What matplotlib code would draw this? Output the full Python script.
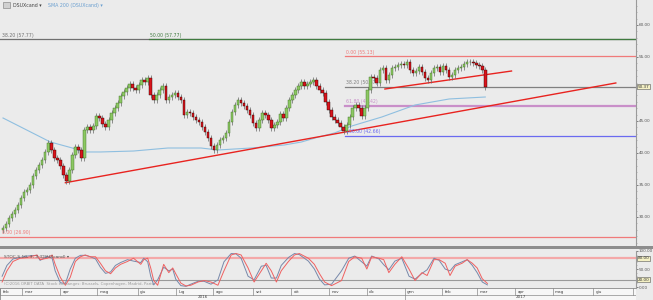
import numpy as np
import matplotlib
matplotlib.use('Agg')
import matplotlib.pyplot as plt
from matplotlib.patches import Rectangle

# daily closes, one per candle slot
closes = [28.28, 28.91, 29.84, 30.47, 31.09, 31.88, 32.97, 33.91, 34.22, 35.00,
          36.41, 37.34, 38.13, 38.91, 40.16, 41.56, 40.47, 39.22, 38.91, 37.97,
          36.56, 35.63, 37.34, 39.69, 40.94, 40.47, 39.22, 43.59, 44.06, 43.59,
          44.22, 45.78, 45.47, 44.53, 44.06, 45.16, 46.25, 47.03, 47.81, 48.91,
          49.53, 50.16, 50.78, 50.16, 49.84, 50.63, 51.41, 51.09, 51.72, 49.06,
          48.28, 49.06, 49.84, 50.47, 48.28, 48.75, 49.06, 49.38, 48.75, 48.28,
          45.94, 46.41, 46.25, 45.63, 45.16, 44.84, 44.06, 43.28, 42.34, 41.09,
          40.47, 41.25, 42.03, 42.34, 43.13, 44.84, 46.41, 47.50, 48.28, 47.81,
          47.34, 46.72, 45.94, 44.69, 43.91, 45.16, 46.25, 45.94, 45.16, 43.91,
          44.38, 44.84, 46.09, 45.47, 47.03, 48.28, 49.06, 49.84, 50.47, 51.09,
          50.47, 50.78, 51.09, 51.41, 50.47, 49.84, 49.38, 47.97, 46.72, 45.63,
          45.16, 44.69, 44.06, 43.44, 44.38, 45.63, 47.03, 47.50, 47.03, 45.78,
          47.03, 49.84, 51.88, 51.72, 50.94, 52.97, 53.28, 51.41, 52.19, 53.28,
          53.44, 53.75, 53.91, 53.75, 54.22, 52.97, 52.50, 52.81, 53.44, 52.66,
          51.72, 51.41, 52.50, 53.28, 53.44, 52.66, 53.59, 52.97, 51.88, 52.19,
          52.97, 53.28, 53.44, 53.91, 54.22, 54.22, 54.06, 53.75, 53.59, 52.97,
          50.37]
first_open = 28.0
wick = 0.45

# SMA 200 (candle index, value)
sma_idx = [0, 15.7, 23, 26.7, 32.3, 43.3, 54.7, 65.7, 71.3, 82.3, 93.3, 99, 104.7, 110, 115.7, 125.7, 136.7, 148, 160]
sma_val = [45.47, 41.72, 40.78, 40.16, 40.16, 40.31, 40.78, 40.78, 40.47, 40.78, 41.25, 41.72, 42.5, 43.13, 44.22, 45.63, 47.5, 48.44, 48.75]

# trend lines (candle index, price)
trend1_idx = [20.7, 203.3]
trend1_val = [35.36, 50.94]
trend2_idx = [126.7, 168.7]
trend2_val = [50.0, 52.81]

# fibonacci / level lines: (start index, price, label, colour)
levels = [(-1, 57.77, '38.20 (57.77)', '#707070'),
          (48.3, 57.77, '50.00 (57.77)', '#3f7a3f'),
          (113.3, 55.13, '0.00 (55.13)', '#f07a7a'),
          (113.3, 50.37, '38.20 (50.37)', '#808080'),
          (113.3, 47.42, '61.80 (47.42)', '#c98fc9'),
          (113.3, 42.66, '100.00 (42.66)', '#6a6af0'),
          (-1, 26.90, '0.00 (26.90)', '#f07a7a')]
last_price = 50.37

# stochastic (candle index, %D and %K)
stoch_idx = [-0.3, 1.3, 3.3, 5.7, 8, 11.3, 12.3, 14.7, 16.3, 17.3,
             19, 20.7, 22.3, 24, 25.7, 27.3, 29, 30.7, 32.3, 34,
             35.7, 37.3, 39, 41.3, 43.3, 45.7, 46.7, 48, 49, 50,
             51.3, 53.3, 55, 56.3, 57.3, 59, 60.7, 62.3, 64.7, 66.7,
             69, 71.3, 73.3, 75.7, 77.3, 79, 81.3, 83.3, 85.7, 87.3,
             89, 90.7, 92.3, 94.7, 96.7, 98.3, 101.3, 103.3, 105, 106.7,
             109, 112.3, 114.7, 116.7, 119, 120.7, 122.3, 124.7, 126.3, 128,
             130, 132.3, 134.7, 136.7, 139, 140.7, 143, 144.7, 146.7, 148.3,
             150, 152.3, 154, 155.7, 157.3, 159, 160.7]
stoch_d = [14, 45, 71, 80, 82, 89, 76, 80, 89, 63,
           27, 5, 27, 71, 84, 89, 84, 84, 66, 45,
           37, 53, 63, 71, 80, 63, 76, 80, 53, 18,
           5, 63, 40, 53, 37, 11, 3, 5, 14, 18,
           14, 5, 45, 89, 93, 89, 53, 14, 45, 66,
           45, 14, 45, 71, 89, 93, 80, 63, 37, 14,
           4, 18, 71, 84, 80, 50, 84, 80, 76, 40,
           63, 84, 50, 18, 40, 32, 76, 76, 66, 32,
           58, 66, 76, 66, 53, 23, 10]
stoch_k = [30, 60, 78, 82, 86, 88, 74, 85, 80, 45,
           12, 10, 50, 80, 88, 88, 84, 78, 55, 38,
           42, 60, 68, 76, 72, 68, 80, 70, 30, 6,
           20, 55, 45, 50, 22, 4, 2, 8, 16, 16,
           8, 20, 70, 93, 92, 80, 30, 20, 58, 60,
           25, 25, 60, 82, 93, 90, 72, 50, 22, 6,
           8, 45, 80, 86, 70, 58, 86, 78, 62, 48,
           72, 80, 30, 22, 38, 48, 80, 74, 50, 45,
           62, 70, 76, 60, 40, 14, 6]

# date axis
month_edges = [-1, 6.3, 19, 31.3, 44.7, 57.3, 69.7, 83, 95.7, 108.3, 120.7,
               133.3, 145.7, 157.3, 170, 182.3, 195.7, 209]
month_labels = ['feb', 'mar', 'apr', 'mag', 'giu', 'lug', 'ago', 'set', 'ott',
                'nov', 'dic', 'gen', 'feb', 'mar', 'apr', 'mag', 'giu']
year_edges = [-1, 133.3, 210]
year_labels = ['2016', '2017']

BG = '#ebebeb'
W, H = 653, 300
xl = (-1, 210)

fig = plt.figure(figsize=(W / 100, H / 100), dpi=100)
fig.patch.set_facecolor(BG)

right = 636 / W
ax = fig.add_axes([0, 54 / H, right, 246 / H])
ax.set_facecolor(BG)
ax.set_xlim(*xl)
ax.set_ylim(63.906 - 246 / 6.4, 63.906)

# level lines
for x0, v, lab, c in levels:
    lw = 1.6 if lab.startswith('61.80') else 0.9
    ax.plot([x0, xl[1]], [v, v], color=c, lw=lw, zorder=1)
    ax.text(x0 + 0.6, v + 0.25, lab, color=c, fontsize=3.3, va='bottom', ha='left', zorder=5)

ax.plot(sma_idx, sma_val, color='#8fbfe0', lw=0.8, zorder=2)
ax.plot(trend1_idx, trend1_val, color='#e8231f', lw=1.0, zorder=3)
ax.plot(trend2_idx, trend2_val, color='#e8231f', lw=1.0, zorder=3)

# candles
idx = np.arange(len(closes))
opens = np.array([first_open] + closes[:-1])
cl = np.array(closes)
hi = np.maximum(opens, cl) + wick
lo = np.minimum(opens, cl) - wick
up = cl >= opens
ax.vlines(idx, lo, hi, color='#666666', lw=0.5, zorder=4)
ax.bar(idx[up], (cl - opens)[up], bottom=opens[up], width=0.85,
       color='#8cc863', edgecolor='#3d6b22', lw=0.3, zorder=5)
ax.bar(idx[~up], (opens - cl)[~up], bottom=cl[~up], width=0.85,
       color='#d9141b', edgecolor='#2a0000', lw=0.3, zorder=5)

ax.set_xticks([])
ax.yaxis.tick_right()
ax.set_yticks([30, 35, 40, 45, 55, 60])
ax.set_yticklabels(['%.2f' % t for t in [30, 35, 40, 45, 55, 60]])
ax.set_yticks(np.arange(26, 64, 1), minor=True)
ax.tick_params(axis='y', which='major', labelsize=3.0, colors='#555555', length=1.5, width=0.5, pad=0.5)
ax.tick_params(axis='y', which='minor', length=0.8, width=0.4, colors='#888888')
for s in ['top', 'left', 'bottom']:
    ax.spines[s].set_visible(False)
ax.spines['right'].set_color('#9a9a9a')
ax.spines['right'].set_linewidth(0.8)
ax.text(1.003, last_price, '%.2f' % last_price, transform=ax.get_yaxis_transform(),
        fontsize=3.0, va='center', ha='left', color='#333333',
        bbox=dict(boxstyle='square,pad=0.12', fc='#f4f0c4', ec='#555555', lw=0.4))

# header
ax.add_patch(Rectangle((0.004, 0.968), 0.012, 0.022, transform=ax.transAxes,
                       fc='#d0d0d0', ec='#777777', lw=0.4))
ax.text(0.02, 0.978, 'DSUXcand ▾', transform=ax.transAxes, fontsize=3.4, color='#444444', va='center')
ax.text(0.075, 0.978, 'SMA 200 (DSUXcand) ▾', transform=ax.transAxes, fontsize=3.4, color='#6a9fd0', va='center')

# separator band
fig.patches.append(Rectangle((0, (H - 249) / H), 1, 3 / H, transform=fig.transFigure,
                             fc='#8d8d8d', ec='none'))

# stochastic panel
ax2 = fig.add_axes([0, 12 / H, right, 37 / H])
ax2.set_facecolor(BG)
ax2.set_xlim(*xl)
ax2.set_ylim(-2.6, 100)
ax2.axhline(80, color='#f4a8a8', lw=1.6)
ax2.axhline(20, color='#9a9a9a', lw=0.8)
ax2.plot(stoch_idx, stoch_k, color='#7788aa', lw=0.7)
ax2.plot(stoch_idx, stoch_d, color='#f06060', lw=0.7)
ax2.set_xticks([])
ax2.yaxis.tick_right()
ax2.set_yticks([0, 50, 100])
ax2.set_yticklabels(['0.00', '50.00', '100.00'])
ax2.set_yticks(np.arange(0, 101, 10), minor=True)
ax2.tick_params(axis='y', which='major', labelsize=3.0, colors='#555555', length=1.5, width=0.5, pad=0.5)
ax2.tick_params(axis='y', which='minor', length=0.8, width=0.4, colors='#888888')
for s in ['top', 'left', 'bottom']:
    ax2.spines[s].set_visible(False)
ax2.spines['right'].set_color('#9a9a9a')
for v in [80, 20]:
    ax2.text(1.003, v, '%.2f' % v, transform=ax2.get_yaxis_transform(),
             fontsize=3.0, va='center', ha='left', color='#333333',
             bbox=dict(boxstyle='square,pad=0.12', fc='#f4f0c4', ec='#555555', lw=0.4))
ax2.text(0.006, 0.85, 'STOC-S 10, 3, 3 (DSUXcand) ▾', transform=ax2.transAxes,
         fontsize=3.2, color='#555555', va='center')
ax2.text(0.006, 0.06, '(C)2016 ORBIT DATA  Stock exchanges: Brussels, Copenhagen, Madrid, Paris',
         transform=ax2.transAxes, fontsize=2.8, color='#9a9a9a', va='bottom')

# date axis
ax3 = fig.add_axes([0, 0, right, 12 / H])
ax3.set_facecolor('#f7f7f7')
ax3.set_xlim(*xl)
ax3.set_ylim(0, 12)
ax3.axis('off')
ax3.add_patch(Rectangle((xl[0], 0), xl[1] - xl[0], 12, fc='#f7f7f7', ec='#8a8a8a', lw=0.6))
ax3.axhline(5, color='#8a8a8a', lw=0.5)
for e in month_edges:
    ax3.plot([e, e], [5, 12], color='#8a8a8a', lw=0.5)
for e, lab in zip(month_edges[:-1], month_labels):
    ax3.text(e + 0.8, 8.3, lab, fontsize=3.0, color='#444444', va='center', ha='left')
for e in year_edges[1:-1]:
    ax3.plot([e, e], [0, 5], color='#8a8a8a', lw=0.5)
for a, b, lab in zip(year_edges[:-1], year_edges[1:], year_labels):
    ax3.text((a + b) / 2, 2.5, lab, fontsize=3.0, color='#444444', va='center', ha='center')

fig.savefig('out.png', dpi=100, facecolor=BG)
